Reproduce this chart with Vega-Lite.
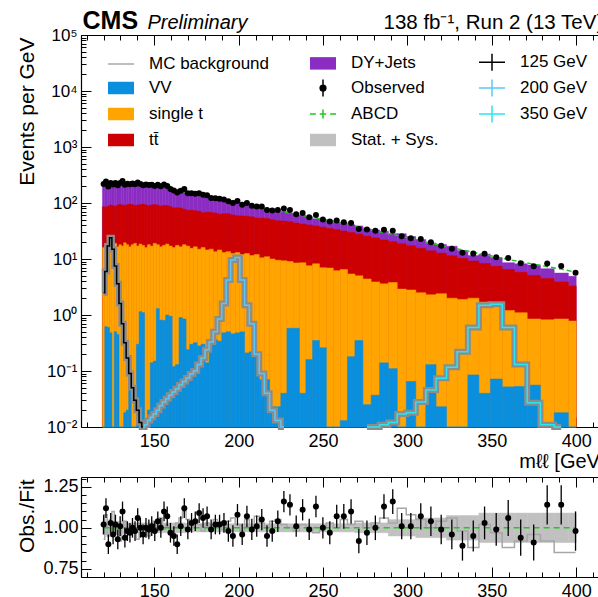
{
"$schema": "https://vega.github.io/schema/vega-lite/v6.json",
"width": 517, "height": 542,
"autosize": {"type": "none"},
"padding": {"left": 81, "top": 35, "right": 0, "bottom": 20},
"background": "white",
"config": {
  "font": "Liberation Sans",
  "view": {"stroke": null},
  "axis": {"grid": false, "labelFont": "Liberation Sans", "titleFont": "Liberation Sans", "labelColor": "#000", "titleColor": "#000", "tickColor": "#000", "domainColor": "#000", "labelFontSize": 18, "titleFontWeight": "normal", "labelFlush": false, "labelOverlap": false, "tickWidth": 1, "domainWidth": 1.2}
},
"datasets": {
"bins": [
{"c":120.0,"lo":119.3,"hi":120.7,"f":215,"o":219,"r":1.02,"e":0.06,"m":0.93,"dy":200,"tt":86,"st":16,"vv":0.001,"bl":0.96,"bh":1.04},
{"c":121.4,"lo":120.7,"hi":122.1,"f":217,"o":243,"r":1.12,"e":0.06,"m":1.08,"dy":234,"tt":84,"st":18,"vv":0.62,"bl":0.96,"bh":1.04},
{"c":122.8,"lo":122.1,"hi":123.5,"f":219,"o":197,"r":0.90,"e":0.06,"m":0.95,"dy":208,"tt":88,"st":17,"vv":0.6,"bl":0.96,"bh":1.04},
{"c":124.2,"lo":123.5,"hi":124.9,"f":221,"o":228,"r":1.03,"e":0.06,"m":1.05,"dy":232,"tt":92,"st":18.5,"vv":0.48,"bl":0.96,"bh":1.04},
{"c":125.6,"lo":124.9,"hi":126.3,"f":222,"o":213,"r":0.96,"e":0.06,"m":1.10,"dy":244,"tt":90,"st":17,"vv":0.001,"bl":0.96,"bh":1.04},
{"c":127.0,"lo":126.3,"hi":127.7,"f":223,"o":227,"r":1.02,"e":0.06,"m":0.96,"dy":214,"tt":87,"st":19,"vv":0.5,"bl":0.96,"bh":1.04},
{"c":128.4,"lo":127.7,"hi":129.1,"f":224,"o":208,"r":0.93,"e":0.06,"m":1.02,"dy":228,"tt":92,"st":16.5,"vv":0.45,"bl":0.96,"bh":1.04},
{"c":129.8,"lo":129.1,"hi":130.5,"f":225,"o":227,"r":1.01,"e":0.06,"m":0.92,"dy":207,"tt":95,"st":18,"vv":0.001,"bl":0.96,"bh":1.04},
{"c":131.2,"lo":130.5,"hi":131.9,"f":225,"o":248,"r":1.10,"e":0.06,"m":1.0,"dy":225,"tt":92,"st":17,"vv":0.001,"bl":0.96,"bh":1.04},
{"c":132.6,"lo":131.9,"hi":133.35,"f":225,"o":212,"r":0.94,"e":0.06,"m":1.04,"dy":234,"tt":90,"st":19.5,"vv":0.018,"bl":0.96,"bh":1.04},
{"c":134.1,"lo":133.35,"hi":134.85,"f":224,"o":220,"r":0.98,"e":0.06,"m":0.98,"dy":220,"tt":93,"st":18,"vv":0.02,"bl":0.97,"bh":1.03},
{"c":135.6,"lo":134.85,"hi":136.35,"f":224,"o":217,"r":0.97,"e":0.06,"m":1.02,"dy":228,"tt":96,"st":16.5,"vv":0.18,"bl":0.97,"bh":1.03},
{"c":137.1,"lo":136.35,"hi":137.85,"f":223,"o":223,"r":1.00,"e":0.06,"m":0.97,"dy":216,"tt":94,"st":18,"vv":0.001,"bl":0.97,"bh":1.03},
{"c":138.6,"lo":137.85,"hi":139.4,"f":221,"o":217,"r":0.98,"e":0.06,"m":1.0,"dy":221,"tt":90,"st":19,"vv":0.001,"bl":0.97,"bh":1.03},
{"c":140.2,"lo":139.4,"hi":141.0,"f":220,"o":233,"r":1.06,"e":0.06,"m":0.93,"dy":205,"tt":92,"st":17,"vv":0.3,"bl":0.97,"bh":1.03},
{"c":141.8,"lo":141.0,"hi":142.6,"f":218,"o":218,"r":1.00,"e":0.06,"m":0.97,"dy":211,"tt":93,"st":18.5,"vv":1.15,"bl":0.97,"bh":1.03},
{"c":143.4,"lo":142.6,"hi":144.25,"f":216,"o":207,"r":0.96,"e":0.06,"m":1.02,"dy":220,"tt":96,"st":17.5,"vv":1.1,"bl":0.97,"bh":1.03},
{"c":145.1,"lo":144.25,"hi":145.95,"f":214,"o":214,"r":1.00,"e":0.06,"m":1.0,"dy":214,"tt":92,"st":16,"vv":0.001,"bl":0.97,"bh":1.03},
{"c":146.8,"lo":145.95,"hi":147.65,"f":211,"o":209,"r":0.99,"e":0.06,"m":0.95,"dy":200,"tt":89,"st":18,"vv":0.02,"bl":0.97,"bh":1.03},
{"c":148.5,"lo":147.65,"hi":149.4,"f":209,"o":211,"r":1.01,"e":0.06,"m":1.02,"dy":213,"tt":92,"st":17,"vv":0.14,"bl":0.97,"bh":1.03},
{"c":150.3,"lo":149.4,"hi":151.2,"f":206,"o":202,"r":0.98,"e":0.06,"m":1.04,"dy":214,"tt":94,"st":19,"vv":0.15,"bl":0.97,"bh":1.03},
{"c":152.1,"lo":151.2,"hi":153.0,"f":203,"o":211,"r":1.04,"e":0.06,"m":1.0,"dy":203,"tt":91,"st":18,"vv":1.3,"bl":0.97,"bh":1.03},
{"c":153.9,"lo":153.0,"hi":154.85,"f":199,"o":199,"r":1.00,"e":0.06,"m":1.06,"dy":211,"tt":88,"st":16.5,"vv":0.81,"bl":0.97,"bh":1.03},
{"c":155.8,"lo":154.85,"hi":156.75,"f":195,"o":215,"r":1.10,"e":0.06,"m":0.99,"dy":193,"tt":90,"st":17.5,"vv":0.8,"bl":0.97,"bh":1.03},
{"c":157.7,"lo":156.75,"hi":158.65,"f":189,"o":202,"r":1.07,"e":0.06,"m":1.02,"dy":193,"tt":90,"st":18.5,"vv":1.0,"bl":0.97,"bh":1.03},
{"c":159.6,"lo":158.65,"hi":160.6,"f":183,"o":178,"r":0.97,"e":0.06,"m":0.97,"dy":178,"tt":86,"st":17,"vv":0.95,"bl":0.97,"bh":1.03},
{"c":161.6,"lo":160.6,"hi":162.6,"f":177,"o":168,"r":0.95,"e":0.06,"m":1.0,"dy":177,"tt":82,"st":16,"vv":0.12,"bl":0.97,"bh":1.03},
{"c":163.6,"lo":162.6,"hi":164.65,"f":171,"o":154,"r":0.90,"e":0.06,"m":1.03,"dy":176,"tt":82,"st":17.5,"vv":0.13,"bl":0.97,"bh":1.03},
{"c":165.7,"lo":164.65,"hi":166.75,"f":164,"o":166,"r":1.01,"e":0.06,"m":1.06,"dy":174,"tt":81,"st":16.5,"vv":0.9,"bl":0.97,"bh":1.03},
{"c":167.8,"lo":166.75,"hi":168.85,"f":158,"o":177,"r":1.12,"e":0.06,"m":1.1,"dy":174,"tt":77,"st":18,"vv":0.85,"bl":0.97,"bh":1.03},
{"c":169.9,"lo":168.85,"hi":171.0,"f":151,"o":149,"r":0.99,"e":0.06,"m":1.05,"dy":159,"tt":74,"st":17,"vv":0.24,"bl":0.975,"bh":1.025},
{"c":172.1,"lo":171.0,"hi":173.2,"f":146,"o":150,"r":1.03,"e":0.06,"m":1.0,"dy":146,"tt":74,"st":15.5,"vv":0.3,"bl":0.975,"bh":1.025},
{"c":174.3,"lo":173.2,"hi":175.45,"f":141,"o":147,"r":1.04,"e":0.06,"m":1.04,"dy":147,"tt":73,"st":16.5,"vv":0.32,"bl":0.975,"bh":1.025},
{"c":176.6,"lo":175.45,"hi":177.75,"f":137,"o":149,"r":1.09,"e":0.06,"m":1.02,"dy":140,"tt":71,"st":15,"vv":0.28,"bl":0.975,"bh":1.025},
{"c":178.9,"lo":177.75,"hi":180.1,"f":132,"o":140,"r":1.06,"e":0.06,"m":0.98,"dy":129,"tt":67,"st":16,"vv":0.3,"bl":0.975,"bh":1.025},
{"c":181.3,"lo":180.1,"hi":182.5,"f":128,"o":137,"r":1.07,"e":0.06,"m":1.03,"dy":132,"tt":68.5,"st":14.5,"vv":0.14,"bl":0.975,"bh":1.025},
{"c":183.7,"lo":182.5,"hi":184.95,"f":124,"o":123,"r":0.99,"e":0.06,"m":1.0,"dy":124,"tt":68,"st":15,"vv":0.35,"bl":0.975,"bh":1.025},
{"c":186.2,"lo":184.95,"hi":187.45,"f":120,"o":122,"r":1.02,"e":0.06,"m":1.05,"dy":126,"tt":66,"st":13.5,"vv":0.36,"bl":0.975,"bh":1.025},
{"c":188.7,"lo":187.45,"hi":190.0,"f":117,"o":119,"r":1.02,"e":0.06,"m":1.02,"dy":119,"tt":63,"st":14.5,"vv":0.34,"bl":0.975,"bh":1.025},
{"c":191.3,"lo":190.0,"hi":192.6,"f":113,"o":116,"r":1.03,"e":0.06,"m":0.99,"dy":112,"tt":64,"st":13,"vv":0.48,"bl":0.975,"bh":1.025},
{"c":193.9,"lo":192.6,"hi":195.25,"f":109,"o":107,"r":0.98,"e":0.065,"m":1.04,"dy":113,"tt":64,"st":13.5,"vv":0.5,"bl":0.975,"bh":1.025},
{"c":196.6,"lo":195.25,"hi":197.95,"f":105,"o":100,"r":0.95,"e":0.065,"m":1.06,"dy":111,"tt":61,"st":12.5,"vv":0.46,"bl":0.975,"bh":1.025},
{"c":199.3,"lo":197.95,"hi":200.7,"f":101,"o":109,"r":1.08,"e":0.065,"m":1.02,"dy":103,"tt":59,"st":13,"vv":0.48,"bl":0.975,"bh":1.025},
{"c":202.1,"lo":200.7,"hi":203.5,"f":97,"o":93,"r":0.96,"e":0.065,"m":0.98,"dy":95,"tt":58.7,"st":12,"vv":0.5,"bl":0.975,"bh":1.025},
{"c":204.9,"lo":203.5,"hi":206.35,"f":93,"o":99.5,"r":1.07,"e":0.065,"m":1.05,"dy":98,"tt":58,"st":12.5,"vv":0.21,"bl":0.975,"bh":1.025},
{"c":207.8,"lo":206.35,"hi":209.25,"f":90,"o":89,"r":0.99,"e":0.065,"m":1.0,"dy":90,"tt":56.7,"st":11.5,"vv":0.22,"bl":0.975,"bh":1.025},
{"c":210.7,"lo":209.25,"hi":212.2,"f":86,"o":87,"r":1.01,"e":0.065,"m":1.07,"dy":92,"tt":54,"st":12,"vv":0.2,"bl":0.975,"bh":1.025},
{"c":213.7,"lo":212.2,"hi":215.25,"f":82.5,"o":86.6,"r":1.05,"e":0.065,"m":1.03,"dy":85,"tt":53.6,"st":10.5,"vv":0.07,"bl":0.975,"bh":1.025},
{"c":216.8,"lo":215.25,"hi":218.35,"f":79,"o":75,"r":0.95,"e":0.065,"m":1.0,"dy":79,"tt":53,"st":11,"vv":0.07,"bl":0.975,"bh":1.025},
{"c":219.9,"lo":218.35,"hi":221.55,"f":75,"o":73.5,"r":0.98,"e":0.065,"m":1.04,"dy":78,"tt":50,"st":10,"vv":0.023,"bl":0.975,"bh":1.025},
{"c":223.2,"lo":221.55,"hi":225.0,"f":72,"o":74.9,"r":1.04,"e":0.065,"m":1.05,"dy":75.6,"tt":48,"st":9.5,"vv":0.023,"bl":0.975,"bh":1.025},
{"c":226.8,"lo":225.0,"hi":228.6,"f":69,"o":80,"r":1.16,"e":0.065,"m":1.02,"dy":70.4,"tt":47.6,"st":9.3,"vv":0.04,"bl":0.975,"bh":1.025},
{"c":230.4,"lo":228.6,"hi":232.25,"f":66,"o":75.2,"r":1.14,"e":0.065,"m":1.0,"dy":66,"tt":46.2,"st":9,"vv":0.58,"bl":0.975,"bh":1.025},
{"c":234.1,"lo":232.25,"hi":236.0,"f":62.5,"o":63.1,"r":1.01,"e":0.065,"m":0.98,"dy":61.3,"tt":44,"st":8.5,"vv":0.58,"bl":0.975,"bh":1.025},
{"c":237.9,"lo":236.0,"hi":239.85,"f":59.5,"o":66,"r":1.11,"e":0.065,"m":1.02,"dy":60.7,"tt":42.2,"st":8.6,"vv":0.04,"bl":0.975,"bh":1.025},
{"c":241.8,"lo":239.85,"hi":243.8,"f":56.5,"o":55.9,"r":0.99,"e":0.065,"m":1.0,"dy":56.5,"tt":40.4,"st":7.6,"vv":0.16,"bl":0.975,"bh":1.025},
{"c":245.8,"lo":243.8,"hi":247.85,"f":54,"o":61,"r":1.13,"e":0.065,"m":0.97,"dy":52.4,"tt":38.9,"st":8.2,"vv":0.35,"bl":0.975,"bh":1.025},
{"c":249.9,"lo":247.85,"hi":251.95,"f":51,"o":51,"r":1.00,"e":0.065,"m":1.0,"dy":51,"tt":37,"st":7,"vv":0.26,"bl":0.975,"bh":1.025},
{"c":254.0,"lo":251.95,"hi":256.05,"f":48,"o":46.6,"r":0.97,"e":0.07,"m":1.03,"dy":49.4,"tt":35,"st":6.9,"vv":0.001,"bl":0.975,"bh":1.025},
{"c":258.1,"lo":256.05,"hi":260.2,"f":45.5,"o":48.7,"r":1.07,"e":0.07,"m":1.0,"dy":45.5,"tt":33.4,"st":6.2,"vv":0.001,"bl":0.975,"bh":1.025},
{"c":262.3,"lo":260.2,"hi":264.45,"f":42.5,"o":45.5,"r":1.07,"e":0.075,"m":1.05,"dy":44.6,"tt":31.5,"st":6.5,"vv":0.013,"bl":0.975,"bh":1.025},
{"c":266.6,"lo":264.45,"hi":268.9,"f":40,"o":44,"r":1.10,"e":0.075,"m":1.02,"dy":40.8,"tt":29.6,"st":5.4,"vv":0.18,"bl":0.975,"bh":1.025},
{"c":271.2,"lo":268.9,"hi":273.6,"f":37.5,"o":34.5,"r":0.92,"e":0.075,"m":1.04,"dy":39,"tt":27.8,"st":5.0,"vv":0.35,"bl":0.97,"bh":1.03},
{"c":276.0,"lo":273.6,"hi":278.5,"f":34.5,"o":33.5,"r":0.97,"e":0.075,"m":1.0,"dy":34.5,"tt":25.5,"st":4.4,"vv":0.025,"bl":0.97,"bh":1.03},
{"c":281.0,"lo":278.5,"hi":283.55,"f":32,"o":32,"r":1.00,"e":0.075,"m":1.03,"dy":33,"tt":23.7,"st":3.9,"vv":0.037,"bl":0.97,"bh":1.03},
{"c":286.1,"lo":283.55,"hi":288.7,"f":29.5,"o":33.3,"r":1.13,"e":0.075,"m":1.06,"dy":31.3,"tt":21.8,"st":3.6,"vv":0.14,"bl":0.97,"bh":1.03},
{"c":291.3,"lo":288.7,"hi":293.95,"f":27.5,"o":31.9,"r":1.16,"e":0.075,"m":1.03,"dy":28.3,"tt":20.4,"st":3.8,"vv":0.11,"bl":0.95,"bh":1.05},
{"c":296.6,"lo":293.95,"hi":299.3,"f":25.3,"o":25.6,"r":1.01,"e":0.08,"m":1.12,"dy":28.3,"tt":18.7,"st":2.9,"vv":0.001,"bl":0.95,"bh":1.05},
{"c":302.0,"lo":299.3,"hi":304.95,"f":23.3,"o":23.5,"r":1.01,"e":0.08,"m":1.08,"dy":25.2,"tt":17.2,"st":2.8,"vv":0.065,"bl":0.95,"bh":1.05},
{"c":307.9,"lo":304.95,"hi":310.9,"f":21.2,"o":22.7,"r":1.07,"e":0.08,"m":1.05,"dy":22.3,"tt":15.6,"st":2.5,"vv":0.001,"bl":0.94,"bh":1.06},
{"c":313.9,"lo":310.9,"hi":316.95,"f":19.2,"o":20,"r":1.04,"e":0.09,"m":1.0,"dy":19.2,"tt":14,"st":2.3,"vv":0.13,"bl":0.94,"bh":1.06},
{"c":320.0,"lo":316.95,"hi":323.15,"f":17.5,"o":17.3,"r":0.99,"e":0.09,"m":1.04,"dy":18.2,"tt":12.7,"st":2.4,"vv":0.023,"bl":0.94,"bh":1.06},
{"c":326.3,"lo":323.15,"hi":329.45,"f":15.9,"o":15.3,"r":0.96,"e":0.09,"m":1.06,"dy":16.9,"tt":11.4,"st":2.0,"vv":0.001,"bl":0.925,"bh":1.075},
{"c":332.6,"lo":329.45,"hi":335.8,"f":14.5,"o":12.9,"r":0.89,"e":0.09,"m":0.98,"dy":14.2,"tt":10.3,"st":1.9,"vv":0.001,"bl":0.925,"bh":1.075},
{"c":339.0,"lo":335.8,"hi":342.35,"f":13.2,"o":12.5,"r":0.95,"e":0.095,"m":0.88,"dy":11.6,"tt":9.2,"st":2.0,"vv":0.085,"bl":0.925,"bh":1.075},
{"c":345.7,"lo":342.35,"hi":349.15,"f":12,"o":12.4,"r":1.03,"e":0.1,"m":1.02,"dy":12.2,"tt":8.3,"st":1.7,"vv":0.04,"bl":0.91,"bh":1.09},
{"c":352.6,"lo":349.15,"hi":356.15,"f":10.9,"o":10.8,"r":0.99,"e":0.1,"m":0.97,"dy":10.6,"tt":7.4,"st":1.6,"vv":0.072,"bl":0.91,"bh":1.09},
{"c":359.7,"lo":356.15,"hi":363.4,"f":9.8,"o":10.4,"r":1.06,"e":0.11,"m":0.88,"dy":8.6,"tt":6.5,"st":1.2,"vv":0.052,"bl":0.91,"bh":1.09},
{"c":367.1,"lo":363.4,"hi":370.95,"f":8.9,"o":8.4,"r":0.94,"e":0.11,"m":0.92,"dy":8.2,"tt":5.8,"st":1.1,"vv":0.053,"bl":0.91,"bh":1.09},
{"c":374.8,"lo":370.95,"hi":378.8,"f":8.1,"o":7.4,"r":0.91,"e":0.11,"m":0.96,"dy":7.8,"tt":5.1,"st":0.85,"vv":0.056,"bl":0.91,"bh":1.09},
{"c":382.8,"lo":378.8,"hi":386.95,"f":7.3,"o":8.3,"r":1.14,"e":0.12,"m":0.92,"dy":6.7,"tt":4.5,"st":0.82,"vv":0.001,"bl":0.91,"bh":1.09},
{"c":391.1,"lo":386.95,"hi":395.35,"f":6.6,"o":7.5,"r":1.14,"e":0.12,"m":0.85,"dy":5.6,"tt":3.9,"st":0.85,"vv":0.018,"bl":0.91,"bh":1.09},
{"c":399.6,"lo":395.35,"hi":400.0,"f":5.8,"o":5.7,"r":0.98,"e":0.12,"m":0.85,"dy":4.9,"tt":3.3,"st":0.78,"vv":0.001,"bl":0.91,"bh":1.09}
],
"sig": [
{"s":"125","c":120.0,"v":2.5},{"s":"125","c":121.4,"v":6},{"s":"125","c":122.8,"v":17},{"s":"125","c":124.2,"v":24},{"s":"125","c":125.6,"v":15},{"s":"125","c":127.0,"v":7.5},{"s":"125","c":128.4,"v":3.6},{"s":"125","c":129.8,"v":1.6},{"s":"125","c":131.2,"v":0.7},{"s":"125","c":132.6,"v":0.32},{"s":"125","c":134.1,"v":0.17},{"s":"125","c":135.6,"v":0.09},{"s":"125","c":137.1,"v":0.05},{"s":"125","c":138.6,"v":0.03},{"s":"125","c":140.2,"v":0.02},{"s":"125","c":141.8,"v":0.012},{"s":"125","c":143.4,"v":0.007},
{"s":"200","c":143.4,"v":0.008},{"s":"200","c":145.1,"v":0.011},{"s":"200","c":146.8,"v":0.013},{"s":"200","c":148.5,"v":0.015},{"s":"200","c":150.3,"v":0.017},{"s":"200","c":152.1,"v":0.02},{"s":"200","c":153.9,"v":0.024},{"s":"200","c":155.8,"v":0.028},{"s":"200","c":157.7,"v":0.032},{"s":"200","c":159.6,"v":0.037},{"s":"200","c":161.6,"v":0.042},{"s":"200","c":163.6,"v":0.048},{"s":"200","c":165.7,"v":0.056},{"s":"200","c":167.8,"v":0.065},{"s":"200","c":169.9,"v":0.075},{"s":"200","c":172.1,"v":0.088},{"s":"200","c":174.3,"v":0.1},{"s":"200","c":176.6,"v":0.13},{"s":"200","c":178.9,"v":0.17},{"s":"200","c":181.3,"v":0.24},{"s":"200","c":183.7,"v":0.33},{"s":"200","c":186.2,"v":0.5},{"s":"200","c":188.7,"v":0.85},{"s":"200","c":191.3,"v":1.6},{"s":"200","c":193.9,"v":4.2},{"s":"200","c":196.6,"v":9.6},{"s":"200","c":199.3,"v":10.6},{"s":"200","c":202.1,"v":4.2},{"s":"200","c":204.9,"v":1.5},{"s":"200","c":207.8,"v":0.7},{"s":"200","c":210.7,"v":0.2},{"s":"200","c":213.7,"v":0.09},{"s":"200","c":216.8,"v":0.04},{"s":"200","c":219.9,"v":0.02},{"s":"200","c":223.2,"v":0.013},{"s":"200","c":226.8,"v":0.007},
{"s":"350","c":276.0,"v":0.006},{"s":"350","c":281.0,"v":0.01},{"s":"350","c":286.1,"v":0.011},{"s":"350","c":291.3,"v":0.012},{"s":"350","c":296.6,"v":0.017},{"s":"350","c":302.0,"v":0.018},{"s":"350","c":307.9,"v":0.028},{"s":"350","c":313.9,"v":0.046},{"s":"350","c":320.0,"v":0.074},{"s":"350","c":326.3,"v":0.117},{"s":"350","c":332.6,"v":0.22},{"s":"350","c":339.0,"v":0.6},{"s":"350","c":345.7,"v":1.5},{"s":"350","c":352.6,"v":1.55},{"s":"350","c":359.7,"v":0.6},{"s":"350","c":367.1,"v":0.13},{"s":"350","c":374.8,"v":0.027},{"s":"350","c":382.8,"v":0.011},{"s":"350","c":391.1,"v":0.005}
],
"leg": [
{"n":"MC background"},{"n":"VV"},{"n":"single t"},{"n":"tt\u0304"},{"n":"DY+Jets"},{"n":"Observed"},{"n":"ABCD"},{"n":"Stat. + Sys."},{"n":"125 GeV"},{"n":"200 GeV"},{"n":"350 GeV"}
]
},
"resolve": {"scale": {"y": "independent", "stroke": "independent"}, "axis": {"x": "independent", "y": "independent"}},
"layer": [
{
 "data": {"name": "bins"},
 "transform": [{"fold": ["dy", "tt", "st", "vv"], "as": ["k", "v"]}],
 "mark": {"type": "rect", "strokeWidth": 0.5},
 "encoding": {
  "x": {"field": "lo", "type": "quantitative", "scale": {"domain": [106.6, 412.9], "nice": false, "zero": false},
        "axis": {"orient": "bottom", "offset": -150, "values": [150, 200, 250, 300, 350, 400], "format": "d", "tickSize": -10, "labelPadding": 15, "domain": true, "title": "m\u2113\u2113 [GeV]", "titleFontSize": 20, "titleX": 524, "titleY": 40, "titleAlign": "right", "titleBaseline": "alphabetic"}},
  "x2": {"field": "hi"},
  "y": {"field": "v", "type": "quantitative", "scale": {"type": "log", "domain": [0.01, 100000], "range": [392, 0], "clamp": true, "nice": false},
        "axis": {"orient": "left", "values": [0.01, 0.1, 1, 10, 100, 1000, 10000, 100000], "labelExpr": "datum.value < 0.05 ? '10\u207b\u00b2' : datum.value < 0.5 ? '10\u207b\u00b9' : datum.value < 5 ? '10\u2070' : datum.value < 50 ? '10\u00b9' : datum.value < 500 ? '10\u00b2' : datum.value < 5000 ? '10\u00b3' : datum.value < 50000 ? '10\u2074' : '10\u2075'", "labelFontSize": 17, "tickSize": -10, "labelPadding": 14, "domain": true, "title": "Events per GeV", "titleFontSize": 21, "titleAngle": 270, "titleX": -48, "titleY": 2, "titleAlign": "right", "titleBaseline": "alphabetic"}},
  "y2": {"datum": 0.001},
  "order": {"field": "v", "sort": "descending"},
  "fill": {"field": "k", "type": "nominal", "scale": {"domain": ["dy", "tt", "st", "vv"], "range": ["#8b2cc2", "#cc0000", "#ffa400", "#0a8fde"]}, "legend": null},
  "stroke": {"field": "k", "type": "nominal", "scale": {"domain": ["dy", "tt", "st", "vv"], "range": ["#8b2cc2", "#cc0000", "#ffa400", "#0a8fde"]}, "legend": null}
 }
},
{
 "data": {"name": "sig"},
 "mark": {"type": "line", "interpolate": "step", "strokeWidth": 6, "color": "#8c8c8c", "strokeCap": "butt"},
 "encoding": {
  "x": {"field": "c", "type": "quantitative", "scale": {"domain": [106.6, 412.9], "nice": false, "zero": false},
        "axis": {"orient": "bottom", "offset": -150, "values": [110,120,130,140,160,170,180,190,210,220,230,240,260,270,280,290,310,320,330,340,360,370,380,390,410], "labels": false, "tickSize": -5, "domain": false, "title": null}},
  "y": {"field": "v", "type": "quantitative", "scale": {"type": "log", "domain": [0.01, 100000], "range": [392, 0], "clamp": true, "nice": false},
        "axis": {"orient": "left", "values": [0.02,0.03,0.04,0.05,0.06,0.07,0.08,0.09,0.2,0.3,0.4,0.5,0.6,0.7,0.8,0.9,2,3,4,5,6,7,8,9,20,30,40,50,60,70,80,90,200,300,400,500,600,700,800,900,2000,3000,4000,5000,6000,7000,8000,9000,20000,30000,40000,50000,60000,70000,80000,90000], "labels": false, "tickSize": -5, "domain": false, "title": null}},
  "detail": {"field": "s", "type": "nominal"}
 }
},
{
 "data": {"name": "sig"},
 "mark": {"type": "line", "interpolate": "step", "strokeWidth": 1.5},
 "encoding": {
  "x": {"field": "c", "type": "quantitative", "scale": {"domain": [106.6, 412.9], "nice": false, "zero": false},
        "axis": {"orient": "top", "values": [150, 200, 250, 300, 350, 400], "labels": false, "tickSize": -10, "domain": true, "title": "Preliminary", "titleFontSize": 20, "titleFontStyle": "italic", "titleX": 66, "titleY": -7, "titleAlign": "left", "titleBaseline": "alphabetic"}},
  "y": {"field": "v", "type": "quantitative", "scale": {"type": "log", "domain": [0.01, 100000], "range": [392, 0], "clamp": true, "nice": false}, "axis": null},
  "stroke": {"field": "s", "type": "nominal", "scale": {"domain": ["125", "200", "350"], "range": ["#000000", "#5ac8f5", "#2ae6f0"]}, "legend": null}
 }
},
{
 "data": {"name": "bins"},
 "mark": {"type": "line", "color": "#1ec81e", "strokeDash": [5, 3], "strokeWidth": 1.5},
 "encoding": {
  "x": {"field": "c", "type": "quantitative", "scale": {"domain": [106.6, 412.9], "nice": false, "zero": false},
        "axis": {"orient": "top", "values": [110,120,130,140,160,170,180,190,210,220,230,240,260,270,280,290,310,320,330,340,360,370,380,390,410], "labels": false, "tickSize": -5, "domain": false, "title": "CMS", "titleFontSize": 25, "titleFontWeight": "bold", "titleX": 1, "titleY": -7, "titleAlign": "left", "titleBaseline": "alphabetic"}},
  "y": {"field": "f", "type": "quantitative", "scale": {"type": "log", "domain": [0.01, 100000], "range": [392, 0], "clamp": true, "nice": false}, "axis": null}
 }
},
{
 "data": {"name": "bins"},
 "mark": {"type": "circle", "color": "#000000", "size": 36, "opacity": 1},
 "encoding": {
  "x": {"field": "c", "type": "quantitative", "scale": {"domain": [106.6, 412.9], "nice": false, "zero": false},
        "axis": {"orient": "top", "labels": false, "ticks": false, "domain": false, "title": "138 fb\u207b\u00b9, Run 2 (13 TeV)", "titleFontSize": 20.5, "titleX": 302, "titleY": -7, "titleAlign": "left", "titleBaseline": "alphabetic"}},
  "y": {"field": "o", "type": "quantitative", "scale": {"type": "log", "domain": [0.01, 100000], "range": [392, 0], "clamp": true, "nice": false}, "axis": null}
 }
},
{
 "data": {"name": "bins"},
 "mark": {"type": "rect", "color": "#c0c0c0", "stroke": "#c0c0c0", "strokeWidth": 0.5},
 "encoding": {
  "x": {"field": "lo", "type": "quantitative", "scale": {"domain": [106.6, 412.9], "nice": false, "zero": false},
        "axis": {"orient": "bottom", "values": [150, 200, 250, 300, 350, 400], "format": "d", "tickSize": -10, "labelPadding": 15, "domain": true, "title": null}},
  "x2": {"field": "hi"},
  "y": {"field": "bl", "type": "quantitative", "scale": {"domain": [0.7, 1.31], "range": [542, 442], "nice": false, "zero": false},
        "axis": {"orient": "left", "values": [0.75, 1, 1.25], "format": ".2f", "tickSize": -10, "labelPadding": 13, "domain": true, "title": "Obs./Fit", "titleFontSize": 21, "titleAngle": 270, "titleX": -48, "titleY": 444, "titleAlign": "right", "titleBaseline": "alphabetic"}},
  "y2": {"field": "bh"}
 }
},
{
 "data": {"name": "bins"},
 "mark": {"type": "line", "interpolate": "step", "color": "#a6a6a6", "strokeWidth": 1.5},
 "encoding": {
  "x": {"field": "c", "type": "quantitative", "scale": {"domain": [106.6, 412.9], "nice": false, "zero": false},
        "axis": {"orient": "bottom", "values": [110,120,130,140,160,170,180,190,210,220,230,240,260,270,280,290,310,320,330,340,360,370,380,390,410], "labels": false, "tickSize": -5, "domain": false, "title": null}},
  "y": {"field": "m", "type": "quantitative", "scale": {"domain": [0.7, 1.31], "range": [542, 442], "nice": false, "zero": false},
        "axis": {"orient": "left", "values": [0.7, 0.8, 0.85, 0.9, 0.95, 1.05, 1.1, 1.15, 1.2, 1.3], "labels": false, "tickSize": -5, "domain": false, "title": null}}
 }
},
{
 "data": {"name": "bins"},
 "mark": {"type": "line", "color": "#1ec81e", "strokeDash": [6, 4], "strokeWidth": 1.5},
 "encoding": {
  "x": {"field": "c", "type": "quantitative", "scale": {"domain": [106.6, 412.9], "nice": false, "zero": false},
        "axis": {"orient": "top", "offset": -442, "values": [150, 200, 250, 300, 350, 400], "labels": false, "tickSize": -10, "domain": true, "title": null}},
  "y": {"datum": 1, "type": "quantitative", "scale": {"domain": [0.7, 1.31], "range": [542, 442], "nice": false, "zero": false}, "axis": null}
 }
},
{
 "data": {"name": "bins"},
 "mark": {"type": "errorbar", "color": "#000000", "rule": {"strokeWidth": 1.3}},
 "encoding": {
  "x": {"field": "c", "type": "quantitative", "scale": {"domain": [106.6, 412.9], "nice": false, "zero": false}, "axis": null},
  "y": {"field": "r", "type": "quantitative", "scale": {"domain": [0.7, 1.31], "range": [542, 442], "nice": false, "zero": false}, "axis": null},
  "yError": {"field": "e"}
 }
},
{
 "data": {"name": "bins"},
 "mark": {"type": "circle", "color": "#000000", "size": 36, "opacity": 1},
 "encoding": {
  "x": {"field": "c", "type": "quantitative", "scale": {"domain": [106.6, 412.9], "nice": false, "zero": false},
        "axis": {"orient": "top", "offset": -442, "values": [110,120,130,140,160,170,180,190,210,220,230,240,260,270,280,290,310,320,330,340,360,370,380,390,410], "labels": false, "tickSize": -5, "domain": false, "title": null}},
  "y": {"field": "r", "type": "quantitative", "scale": {"domain": [0.7, 1.31], "range": [542, 442], "nice": false, "zero": false}, "axis": null}
 }
},
{
 "data": {"name": "leg"},
 "mark": {"type": "point", "filled": true, "opacity": 0},
 "encoding": {
  "color": {"field": "n", "type": "nominal",
    "scale": {"domain": ["MC background", "VV", "single t", "tt\u0304", "DY+Jets", "Observed", "ABCD", "Stat. + Sys.", "125 GeV", "200 GeV", "350 GeV"],
              "range": ["#a8a8a8", "#0a8fde", "#ffa400", "#cc0000", "#8b2cc2", "#000000", "#1ec81e", "#c0c0c0", "#000000", "#5ac8f5", "#2ae6f0"]},
    "legend": {"orient": "none", "legendX": 26, "legendY": 13, "columns": 3, "title": null, "padding": 0, "symbolSize": 676, "symbolStrokeWidth": 1.5, "symbolOpacity": 1, "labelFontSize": 17, "labelFont": "Liberation Sans", "labelColor": "#000", "labelOffset": 14, "columnPadding": 37, "rowPadding": 0, "labelLimit": 300,
      "encode": {"symbols": {"update": {
        "fill": {"signal": "indexof(['MC background','125 GeV','200 GeV','350 GeV','ABCD'], datum.value) >= 0 ? 'transparent' : scale('color', datum.value)"},
        "stroke": {"signal": "indexof(['MC background','125 GeV','200 GeV','350 GeV','ABCD','Observed'], datum.value) >= 0 ? scale('color', datum.value) : 'transparent'"},
        "opacity": {"value": 1}}}}}},
  "shape": {"field": "n", "type": "nominal",
    "scale": {"domain": ["MC background", "VV", "single t", "tt\u0304", "DY+Jets", "Observed", "ABCD", "Stat. + Sys.", "125 GeV", "200 GeV", "350 GeV"],
              "range": ["M-1,0H1", "M-1,-0.48H1V0.48H-1Z", "M-1,-0.48H1V0.48H-1Z", "M-1,-0.48H1V0.48H-1Z", "M-1,-0.48H1V0.48H-1Z", "M0,-0.65V0.65M-0.22,0A0.22,0.22,0,1,1,0.22,0A0.22,0.22,0,1,1,-0.22,0Z", "M-1,0H-0.55M-0.25,0H0.25M0.55,0H1M0,-0.35V0.35", "M-1,-0.48H1V0.48H-1Z", "M-1,0H1M0,-0.65V0.65", "M-1,0H1M0,-0.65V0.65", "M-1,0H1M0,-0.65V0.65"]},
    "legend": {"orient": "none", "legendX": 26, "legendY": 13, "columns": 3, "title": null}}
 }
}
]
}
